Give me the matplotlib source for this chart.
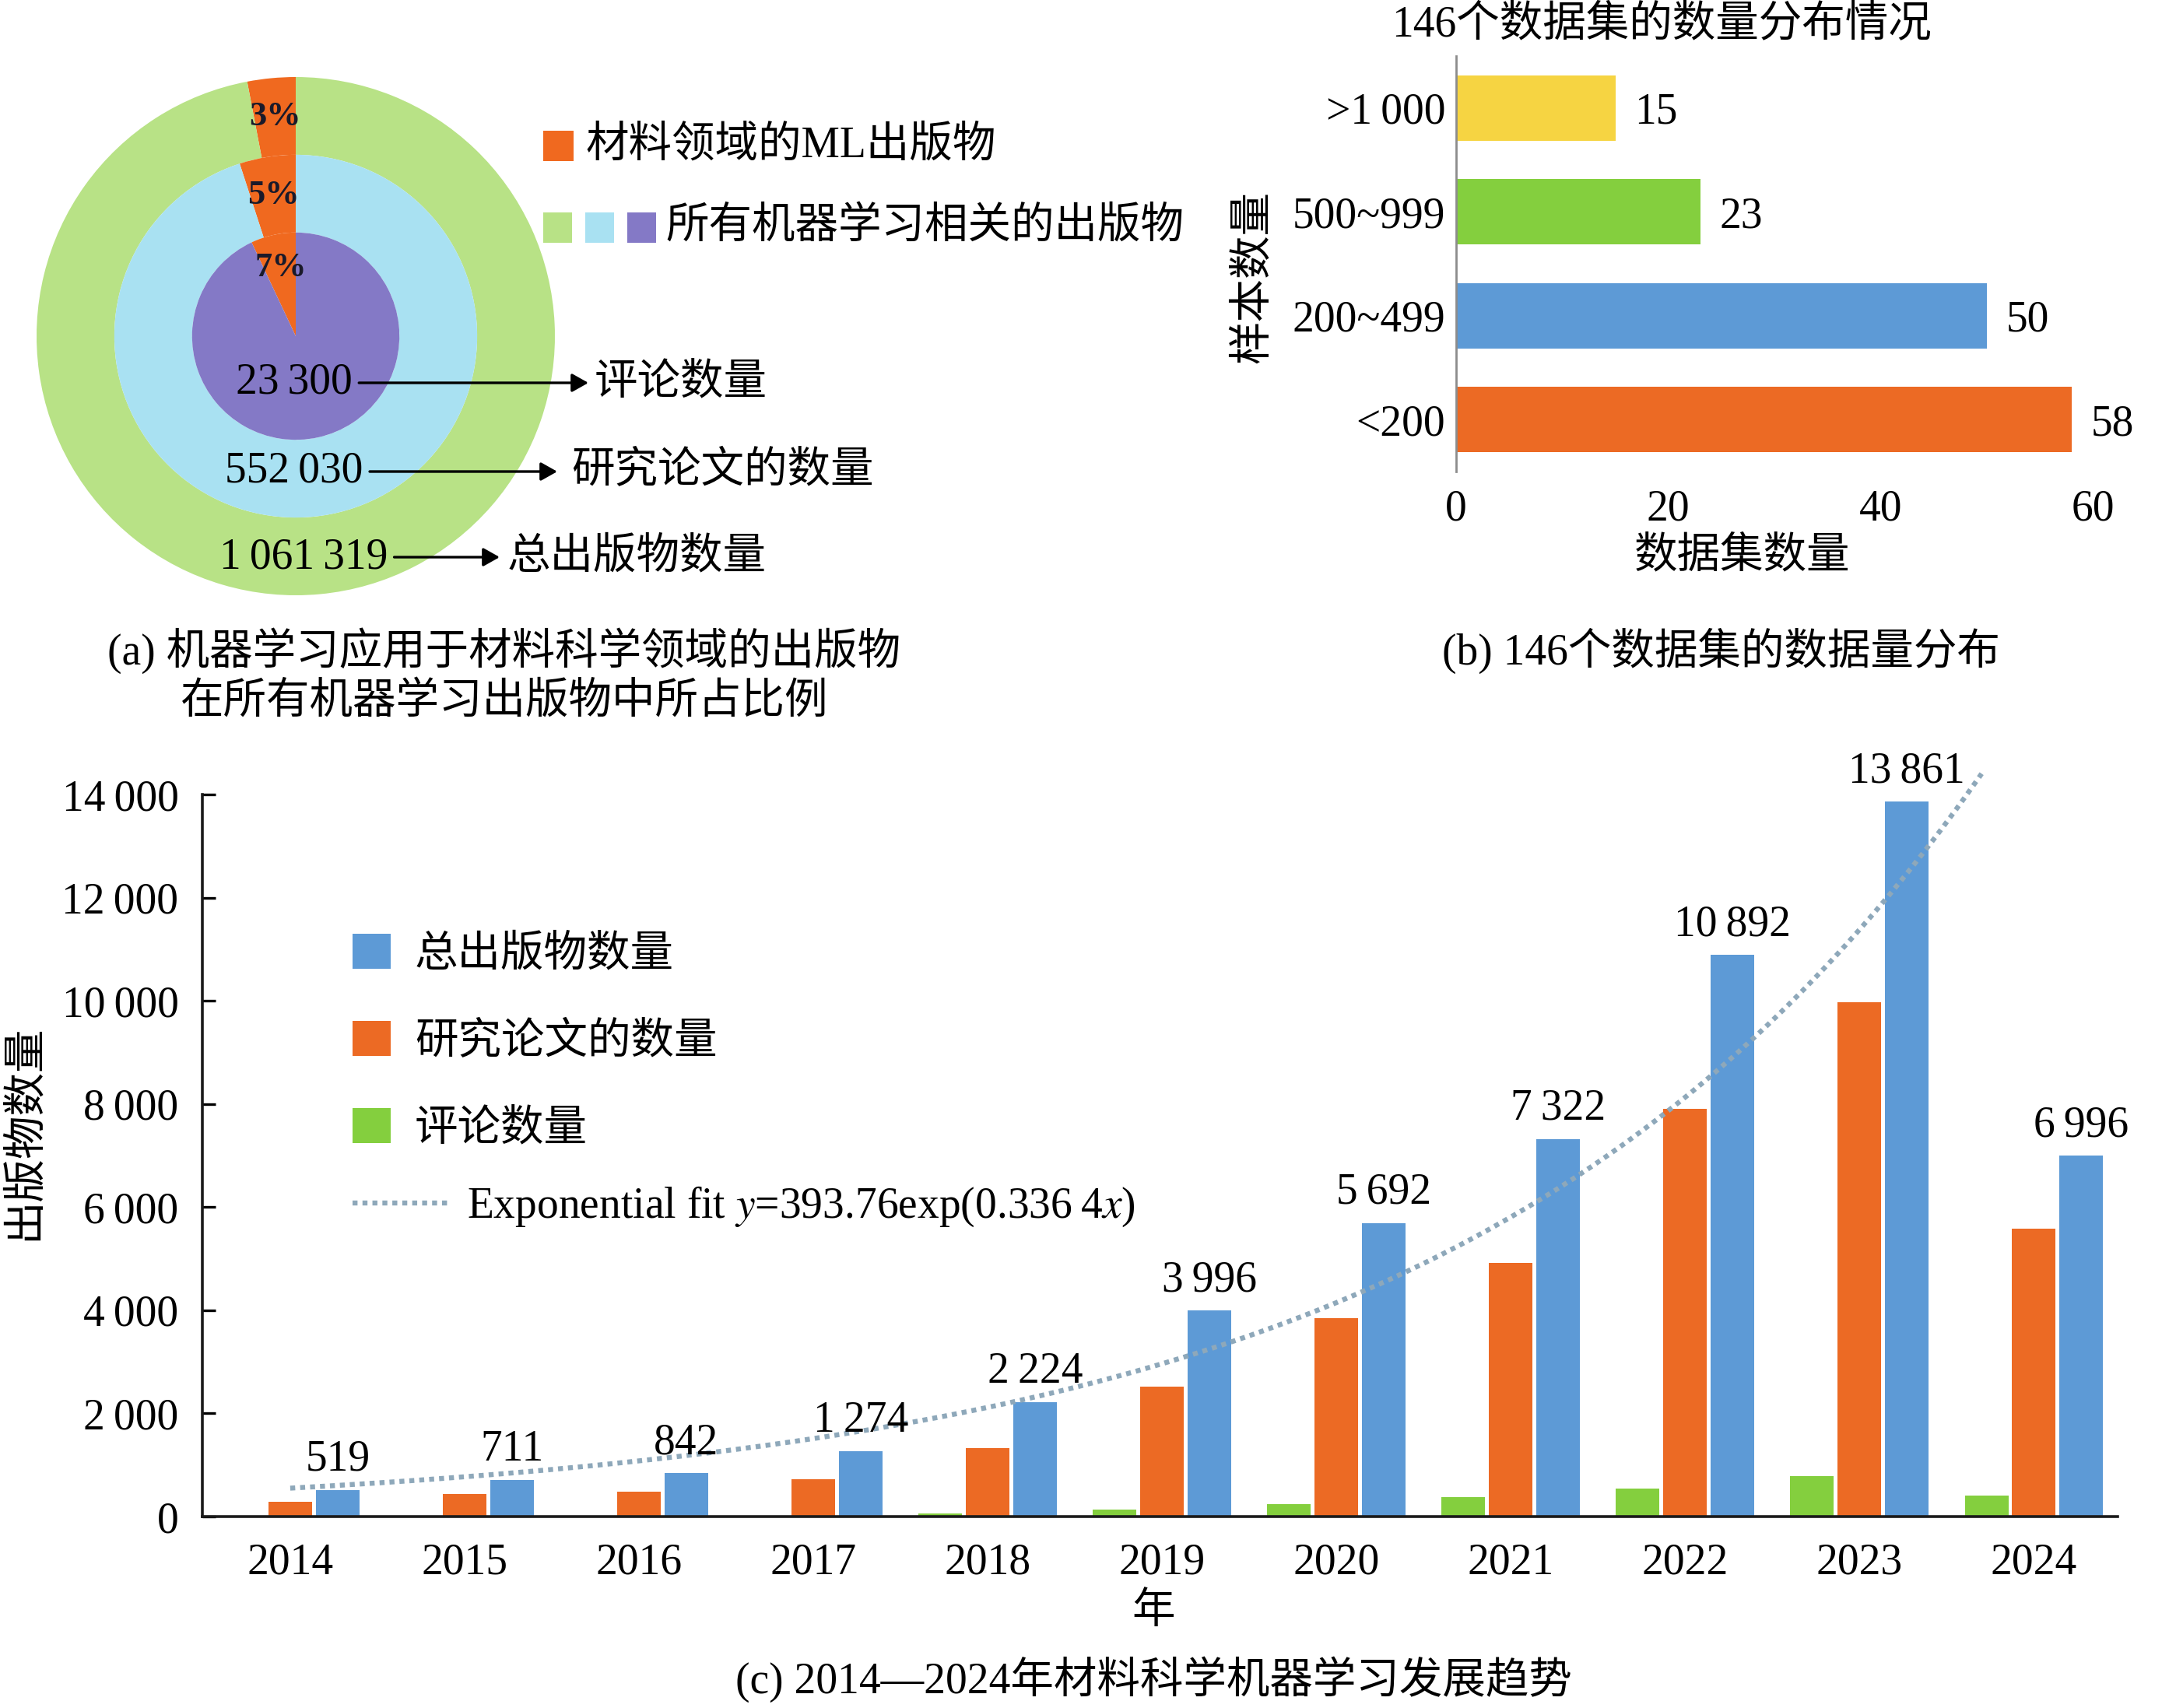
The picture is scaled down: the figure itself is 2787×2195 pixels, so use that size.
import numpy as np
import matplotlib
matplotlib.use('Agg')
import matplotlib.pyplot as plt
from matplotlib.patches import Rectangle

plt.rcParams['font.family'] = ['Liberation Serif', 'Noto Sans CJK SC', 'DejaVu Serif']
plt.rcParams['mathtext.fontset'] = 'stix'
plt.rcParams['axes.unicode_minus'] = False

W, H = 2787, 2195
DPI = 200
FS = 20


def fx(x):
    return x / W


def fy(y):
    return 1 - y / H


def thin(v):
    return f'{v:,}'.replace(',', '\u2009')


# (a) 出版物比例
ring_names = ['总出版物数量', '研究论文的数量', '评论数量']
ring_totals = [1061319, 552030, 23300]
ring_ml_pct = [3, 5, 7]

# (b) 数据集数量
size_bins = ['<200', '200~499', '500~999', '>1\u2009000']
dataset_counts = [58, 50, 23, 15]

# (c) 2014-2024
years = ['2014', '2015', '2016', '2017', '2018', '2019', '2020', '2021', '2022', '2023', '2024']
total_pubs = [519, 711, 842, 1274, 2224, 3996, 5692, 7322, 10892, 13861, 6996]
research_pubs = [280, 430, 480, 730, 1330, 2520, 3840, 4920, 7900, 9970, 5580]
review_pubs = [5, 8, 10, 15, 60, 130, 240, 380, 550, 780, 400]
fit_a = 393.76
fit_b = 0.3364

c_orange = '#ec6a24'
c_blue = '#5d9ad6'
c_green = '#84cf3e'
c_yellow = '#f6d442'
ring_colors = ['#b8e286', '#a9e1f2', '#8479c6']
ml_color = '#f0691f'

fig = plt.figure(figsize=(W / DPI, H / DPI), dpi=DPI)

# ---------------- (a) ----------------
ax_a = fig.add_axes([fx(47), fy(765), 666 / W, 666 / H])
radii = [1.0, 0.70, 0.40]
for i, (r, p, c) in enumerate(zip(radii, ring_ml_pct, ring_colors)):
    w = r - radii[i + 1] if i < len(radii) - 1 else r
    ax_a.pie([p, 100 - p], radius=r, colors=[ml_color, c], startangle=90,
             counterclock=True, wedgeprops=dict(width=w, linewidth=0))
label_r = [0.85, 0.55, 0.27]
for r, p in zip(label_r, ring_ml_pct):
    ang = np.deg2rad(90 + p * 1.8)
    ax_a.text(r * np.cos(ang), r * np.sin(ang), f'{p}%', ha='center', va='center',
              fontsize=16, fontweight='bold', color='#1a1a2a')
ax_a.set_xlim(-1, 1)
ax_a.set_ylim(-1, 1)
ax_a.set_aspect('equal')
ax_a.axis('off')

# 数值 + 箭头
count_pos = [(390, 716, 642, 652), (378, 606, 716, 734), (378, 492, 756, 764)]
for name, tot, (cx, cy, tip, lx) in zip(ring_names, ring_totals, count_pos):
    ax_a.annotate(thin(tot), xy=(fx(tip), fy(cy)), xytext=(fx(cx), fy(cy)),
                  xycoords='figure fraction', textcoords='figure fraction',
                  ha='center', va='center', fontsize=FS,
                  arrowprops=dict(arrowstyle='-|>,head_length=0.32,head_width=0.18',
                                  color='black', lw=1.2, shrinkA=1, shrinkB=0))
    fig.text(fx(lx), fy(cy), name, ha='left', va='center', fontsize=FS)

# 图例 (a)
fig.add_artist(Rectangle((fx(698), fy(207)), 39 / W, 39 / H, transform=fig.transFigure,
                         color=ml_color, lw=0))
fig.text(fx(753), fy(188), '材料领域的ML出版物', ha='left', va='center', fontsize=FS)
for x0, c in zip([698, 752, 806], ring_colors):
    fig.add_artist(Rectangle((fx(x0), fy(312)), 37 / W, 39 / H, transform=fig.transFigure,
                             color=c, lw=0))
fig.text(fx(855), fy(292), '所有机器学习相关的出版物', ha='left', va='center', fontsize=FS)

fig.text(fx(648), fy(836), '(a) 机器学习应用于材料科学领域的出版物', ha='center', va='center', fontsize=FS)
fig.text(fx(648), fy(903), '在所有机器学习出版物中所占比例', ha='center', va='center', fontsize=FS)

# ---------------- (b) ----------------
ax_b = fig.add_axes([fx(1871), fy(606), 818 / W, 534 / H])
ypos = np.arange(len(size_bins))
ax_b.barh(ypos, dataset_counts, height=0.63, color=[c_orange, c_blue, c_green, c_yellow])
for y, v in zip(ypos, dataset_counts):
    ax_b.annotate(str(v), (v, y), xytext=(9, 0), textcoords='offset points',
                  ha='left', va='center_baseline', fontsize=FS)
ax_b.set_xlim(0, 60)
ax_b.set_ylim(-0.5, 3.5)
ax_b.set_yticks(ypos, size_bins)
ax_b.set_xticks([0, 20, 40, 60])
ax_b.tick_params(axis='both', length=0, labelsize=FS)
ax_b.tick_params(axis='y', pad=5)
ax_b.tick_params(axis='x', pad=8)
for s in ['top', 'right', 'bottom']:
    ax_b.spines[s].set_visible(False)
ax_b.spines['left'].set_color('#8c8c8c')
ax_b.spines['left'].set_linewidth(1.0)
fig.text(fx(2135), fy(32), '146个数据集的数量分布情况', ha='center', va='center', fontsize=FS)
fig.text(fx(2239), fy(715), '数据集数量', ha='center', va='center', fontsize=FS)
fig.text(fx(1611), fy(356), '样本数量', ha='center', va='center', rotation=90, fontsize=FS)
fig.text(fx(2211), fy(836), '(b) 146个数据集的数据量分布', ha='center', va='center', fontsize=FS)

# ---------------- (c) ----------------
ax_c = fig.add_axes([fx(260), fy(1949), 2461 / W, 928 / H])
x = np.arange(len(years))
bw = 0.25
off = 0.272
b_rev = ax_c.bar(x - off, review_pubs, bw, color=c_green, label='评论数量')
b_res = ax_c.bar(x, research_pubs, bw, color=c_orange, label='研究论文的数量')
b_tot = ax_c.bar(x + off, total_pubs, bw, color=c_blue, label='总出版物数量')
for xi, v in zip(x, total_pubs):
    ax_c.annotate(thin(v), (xi + off, v), xytext=(0, 9), textcoords='offset points',
                  ha='center', va='baseline', fontsize=FS, annotation_clip=False)

xf = np.linspace(1, 10.7, 200)
fit_line, = ax_c.plot(xf - 1, fit_a * np.exp(fit_b * xf), color='#8ea8ba', lw=2.3,
                      linestyle=(0, (1, 1)), clip_on=False,
                      label='Exponential fit $y$=393.76exp(0.336\u20094$x$)')

ax_c.set_xlim(-0.504, 10.48)
ax_c.set_ylim(0, 14000)
ax_c.set_xticks(x, years)
ax_c.set_yticks(np.arange(0, 14001, 2000))
ax_c.set_yticklabels([thin(v) for v in range(0, 14001, 2000)])
ax_c.tick_params(axis='x', length=0, labelsize=FS, pad=12)
ax_c.tick_params(axis='y', direction='in', length=6, width=1.2, labelsize=FS, pad=11)
for s in ['top', 'right']:
    ax_c.spines[s].set_visible(False)
for s in ['left', 'bottom']:
    ax_c.spines[s].set_linewidth(1.3)
    ax_c.spines[s].set_color('#1a1a1a')

leg1 = ax_c.legend(handles=[b_tot, b_res, b_rev], loc='center left',
                   bbox_to_anchor=(fx(453), fy(1339)), bbox_transform=fig.transFigure,
                   frameon=False, borderpad=0, borderaxespad=0, fontsize=FS,
                   handlelength=0.88, handleheight=0.86, handletextpad=0.56, labelspacing=1.05)
ax_c.add_artist(leg1)
ax_c.legend(handles=[fit_line], loc='center left',
            bbox_to_anchor=(fx(453), fy(1551)), bbox_transform=fig.transFigure,
            frameon=False, borderpad=0, borderaxespad=0, fontsize=FS,
            handlelength=2.27, handletextpad=0.38)

fig.text(fx(32), fy(1455), '出版物数量', ha='center', va='center', rotation=90, fontsize=FS)
fig.text(fx(1482), fy(2072), '年', ha='center', va='center', fontsize=FS)
fig.text(fx(1482), fy(2158), '(c) 2014—2024年材料科学机器学习发展趋势', ha='center', va='center', fontsize=FS)

fig.savefig('out.png', dpi=DPI)
